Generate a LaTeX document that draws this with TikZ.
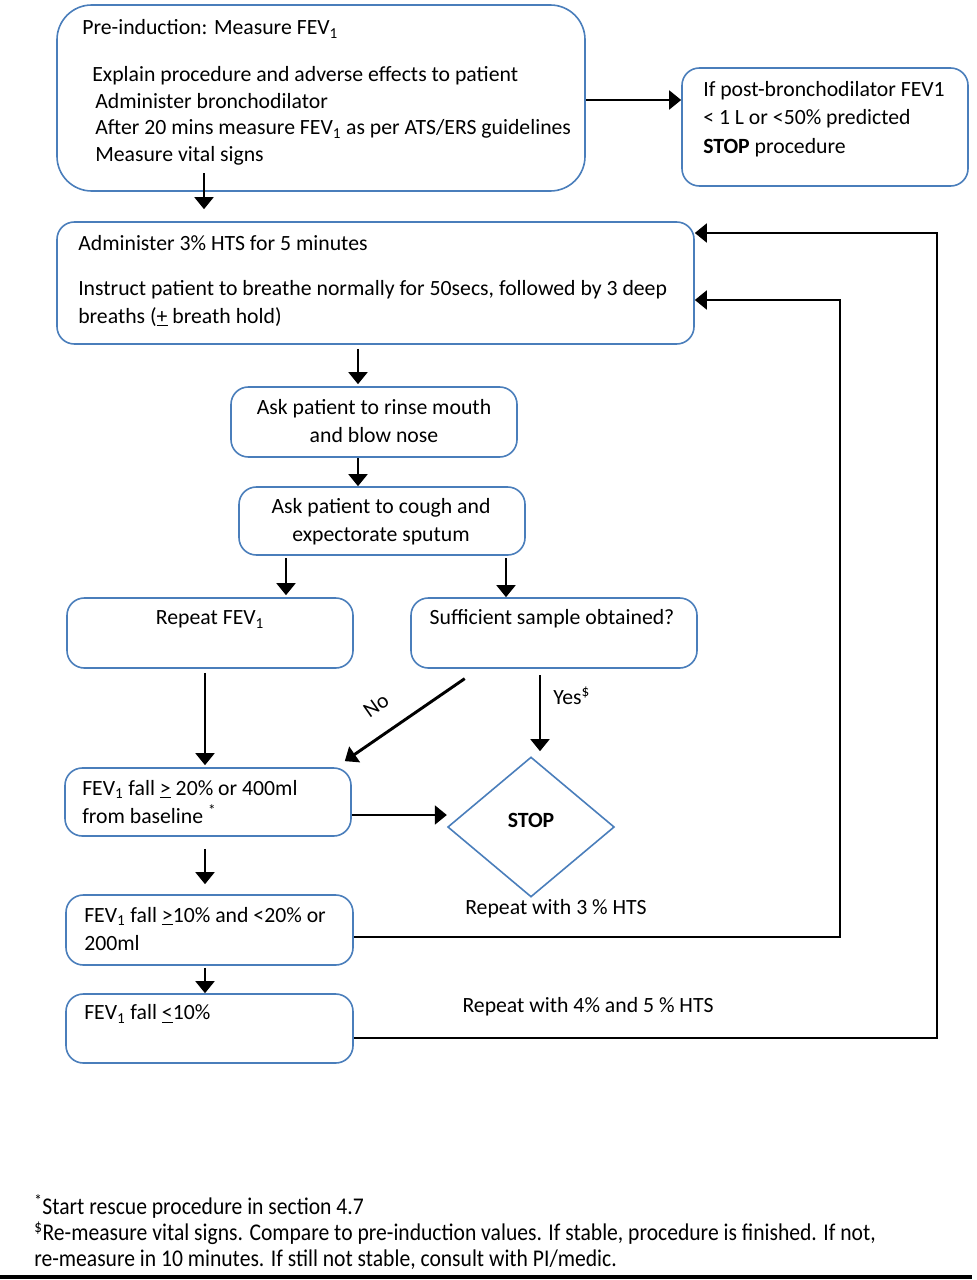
\documentclass[tikz,border=0pt]{standalone}
\usepackage{fontspec}
\setmainfont{Carlito}
\newfontfamily\condfont[FakeStretch=0.9]{Carlito}
\usetikzlibrary{arrows.meta,shapes.geometric,fit}

\definecolor{boxblue}{RGB}{74,126,187}
\newcommand{\fev}{FEV\textsubscript{1}}

\tikzset{
  box/.style={draw=boxblue, line width=1.2pt, rounded corners=13pt, inner sep=0pt},
  flow/.style={line width=2.2pt, -{Triangle[length=9pt,width=14pt]}},
  txt/.style={inner sep=0pt, anchor=north west, align=left, execute at begin node=\strut},
  ctxt/.style={txt, anchor=north, align=center},
}

\begin{document}
\begin{tikzpicture}[x=0.75pt, y=-0.75pt, font=\fontsize{16.3pt}{20pt}\selectfont]
  \useasboundingbox (0,0) rectangle (976,1280);

  % boxes
  \node[box, rounded corners=26pt, fit={(57,5) (585,191)}] (pre) {};
  \node[box, fit={(682,68) (968,186)}] (post) {};
  \node[box, fit={(57,222) (694,344)}] (hts) {};
  \node[box, fit={(231,387) (517,457)}] (rinse) {};
  \node[box, fit={(239,487) (525,555)}] (cough) {};
  \node[box, fit={(67,598) (353,668)}] (fev) {};
  \node[box, fit={(411,598) (697,668)}] (sample) {};
  \node[box, fit={(65,768) (351,836)}] (fall20) {};
  \node[box, fit={(66,895) (353,965)}] (fall10) {};
  \node[box, fit={(66,994) (353,1063)}] (less) {};
  \node[diamond, draw=boxblue, line width=1.2pt, inner sep=0pt,
        minimum width=125pt, minimum height=105pt] (stop) at (531,827) {};

  % texts
  \node[txt] (preT) at (82,16) {Pre-induction: Measure \fev};
  \node[txt] (preL) at (95,66) {\hspace*{-2.25pt}Explain procedure and adverse effects to patient\\
    Administer bronchodilator\\
    After 20 mins measure \fev{} as per ATS/ERS guidelines\\
    Measure vital signs};
  \node[txt] (postT) at (703,81) {If post-bronchodilator FEV1\\[1.4pt]
    < 1 L or <50\% predicted\\[1.4pt]
    \textbf{STOP} procedure};
  \node[txt] (htsT) at (78,232) {Administer 3\% HTS for 5 minutes};
  \node[txt] (htsL) at (78,280) {Instruct patient to breathe normally for 50secs, followed by 3 deep\\[1pt]
    breaths (\underline{+} breath hold)};
  \node[ctxt] (rinseT) at (374,399) {Ask patient to rinse mouth\\[1pt] and blow nose};
  \node[ctxt] (coughT) at (381,498) {Ask patient to cough and\\[1pt] expectorate sputum};
  \node[ctxt] (fevT) at (210,606) {Repeat \fev};
  \node[ctxt] (sampleT) at (552,606) {Sufficient sample obtained?};
  \node[txt] (fall20T) at (82,780) {\fev{} fall \underline{>} 20\% or 400ml\\[1pt]
    from baseline \textsuperscript{*}};
  \node[txt] (fall10T) at (84,907) {\fev{} fall \underline{>}10\% and <20\% or\\[1pt] 200ml};
  \node[txt] (lessT) at (84,1001) {\fev{} fall \underline{<}10\%};
  \node[font=\fontsize{16.3pt}{20pt}\selectfont\bfseries, inner sep=0pt] (stopT) at (531,820) {STOP};
  \node[rotate=35, inner sep=0pt] (no) at (376,706) {No};
  \node[anchor=west, inner sep=0pt] (yes) at (553,696) {Yes\textsuperscript{\$}};
  \node[inner sep=0pt] (rep3) at (556,909) {Repeat with 3 \% HTS};
  \node[inner sep=0pt] (rep45) at (588,1007) {Repeat with 4\% and 5 \% HTS};

  % arrows
  \draw[flow] (pre.east |- 0,100) -- (post.west |- 0,100);
  \draw[flow, shorten <=-14pt, shorten >=9pt] (pre.south -| 204,0) -- (hts.north -| 204,0);
  \draw[flow, shorten <=3pt, shorten >=1.5pt] (hts.south -| 358,0) -- (rinse.north -| 358,0);
  \draw[flow] (rinse.south -| 358,0) -- (cough.north -| 358,0);
  \draw[flow, shorten <=2pt, shorten >=1.5pt] (cough.south -| 286,0) -- (fev.north -| 286,0);
  \draw[flow, shorten <=2pt] (cough.south -| 506,0) -- (sample.north -| 506,0);
  \draw[flow, shorten <=3pt, shorten >=1.5pt] (fev.south -| 205,0) -- (fall20.north -| 205,0);
  \draw[flow, shorten <=13pt, shorten >=8pt] (sample.south -| 479,0) -- (fall20.north -| 336,0);
  \draw[flow, shorten <=5pt, shorten >=3.75pt] (sample.south -| 540,0) -- (stop.north -| 540,0);
  \draw[flow] (fall20.east |- 0,815) -- (stop.west |- 0,815);
  \draw[flow, shorten <=9pt, shorten >=7.5pt] (fall20.south -| 205,0) -- (fall10.north -| 205,0);
  \draw[flow, shorten <=1.5pt] (fall10.south -| 205,0) -- (less.north -| 205,0);
  \draw[flow] (fall10.east |- 0,937) -| (840,300) -- (hts.east |- 0,300);
  \draw[flow] (less.east |- 0,1038) -| (937,233) -- (hts.east |- 0,233);

  % footnotes
  \node[txt, font=\condfont\fontsize{18pt}{19.5pt}\selectfont] (notes) at (34,1194)
    {\textsuperscript{*}Start rescue procedure in section 4.7\\
     \textsuperscript{\$}Re-measure vital signs. Compare to pre-induction values. If stable, procedure is finished. If not,\\
     re-measure in 10 minutes. If still not stable, consult with PI/medic.};
  \draw[line width=2.5pt] (0,1277) -- (972,1277);
\end{tikzpicture}
\end{document}
